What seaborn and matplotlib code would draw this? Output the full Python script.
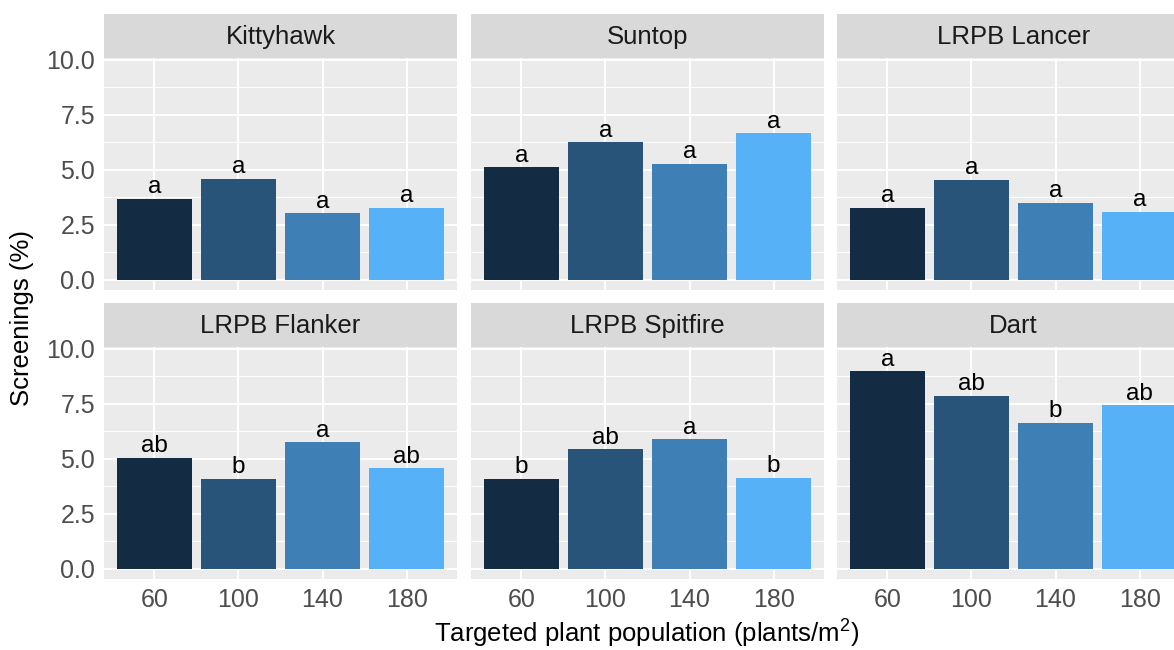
import matplotlib
matplotlib.use('Agg')
import matplotlib.pyplot as plt
import seaborn as sns
import pandas as pd

# data
varieties = ['Kittyhawk', 'Suntop', 'LRPB Lancer', 'LRPB Flanker', 'LRPB Spitfire', 'Dart']
populations = ['60', '100', '140', '180']

kittyhawk = [3.68, 4.59, 3.03, 3.27]
suntop = [5.12, 6.24, 5.27, 6.65]
lancer = [3.27, 4.55, 3.50, 3.10]
flanker = [5.04, 4.10, 5.75, 4.57]
spitfire = [4.10, 5.42, 5.88, 4.13]
dart = [8.96, 7.86, 6.64, 7.42]

kittyhawk_sig = ['a', 'a', 'a', 'a']
suntop_sig = ['a', 'a', 'a', 'a']
lancer_sig = ['a', 'a', 'a', 'a']
flanker_sig = ['ab', 'b', 'a', 'ab']
spitfire_sig = ['b', 'ab', 'a', 'b']
dart_sig = ['a', 'ab', 'b', 'ab']

values = [kittyhawk, suntop, lancer, flanker, spitfire, dart]
sigs = [kittyhawk_sig, suntop_sig, lancer_sig, flanker_sig, spitfire_sig, dart_sig]

rows = []
for v, vals, ss in zip(varieties, values, sigs):
    for p, y, s in zip(populations, vals, ss):
        rows.append({'variety': v, 'pop': p, 'screenings': y, 'sig': s})
df = pd.DataFrame(rows)

colors = ['#132B43', '#28547A', '#3E80B6', '#56B1F7']

sns.set_theme(style='darkgrid')
plt.rcParams['font.family'] = ['Liberation Sans', 'DejaVu Sans']
plt.rcParams['mathtext.fontset'] = 'custom'
plt.rcParams['mathtext.rm'] = 'Liberation Sans'

W, H = 1174, 650
fig = plt.figure(figsize=(W / 100, H / 100), dpi=100)

col_left = [104, 471, 837]
panel_w = 353
row_top = [58, 347]
panel_h = 232
strip_h = 44

for i, v in enumerate(varieties):
    r, c = divmod(i, 3)
    x0 = col_left[c]
    y0 = row_top[r]
    ax = fig.add_axes([x0 / W, 1 - (y0 + panel_h) / H, panel_w / W, panel_h / H])
    sub = df[df['variety'] == v]
    sns.barplot(data=sub, x='pop', y='screenings', hue='pop', order=populations,
                hue_order=populations, palette=colors, saturation=1, width=0.9,
                legend=False, ax=ax, linewidth=0, errorbar=None)
    for k, (y, s) in enumerate(zip(sub['screenings'], sub['sig'])):
        ax.text(k, y + 0.02, s, ha='center', va='bottom', fontsize=17.5, color='black')
    ax.set_facecolor('#EBEBEB')
    ax.set_xlim(-0.6, 3.6)
    ax.set_ylim(-0.46, 10.07)
    ax.set_yticks([0, 2.5, 5, 7.5, 10])
    ax.set_yticklabels(['0.0', '2.5', '5.0', '7.5', '10.0'])
    ax.set_yticks([1.25, 3.75, 6.25, 8.75], minor=True)
    ax.grid(which='major', color='white', linewidth=1.4)
    ax.grid(which='minor', axis='y', color='white', linewidth=0.7)
    ax.set_axisbelow(True)
    for sp in ax.spines.values():
        sp.set_visible(False)
    ax.set_xlabel('')
    ax.set_ylabel('')
    ax.tick_params(which='minor', length=0)
    ax.tick_params(axis='both', which='major', length=4.5, width=1, color='#333333',
                   labelsize=18, labelcolor='#4D4D4D', pad=2)
    if r == 0:
        ax.tick_params(axis='x', length=0, labelbottom=False)
    if c != 0:
        ax.tick_params(axis='y', length=0, labelleft=False)

    sax = fig.add_axes([x0 / W, 1 - y0 / H, panel_w / W, strip_h / H])
    sax.set_facecolor('#D9D9D9')
    sax.set_xticks([])
    sax.set_yticks([])
    sax.grid(False)
    for sp in sax.spines.values():
        sp.set_visible(False)
    sax.text(0.5, 0.48, v, ha='center', va='center', fontsize=18.5, color='#1A1A1A',
             transform=sax.transAxes)

fig.text(22 / W, 1 - 318 / H, 'Screenings (%)', rotation=90, ha='center', va='center',
         fontsize=18.5, color='black')
fig.text(647 / W, 1 - 633 / H, 'Targeted plant population (plants/m$^{2}$)',
         ha='center', va='center', fontsize=18.5, color='black')

fig.savefig('out.png', dpi=100, facecolor='white')
